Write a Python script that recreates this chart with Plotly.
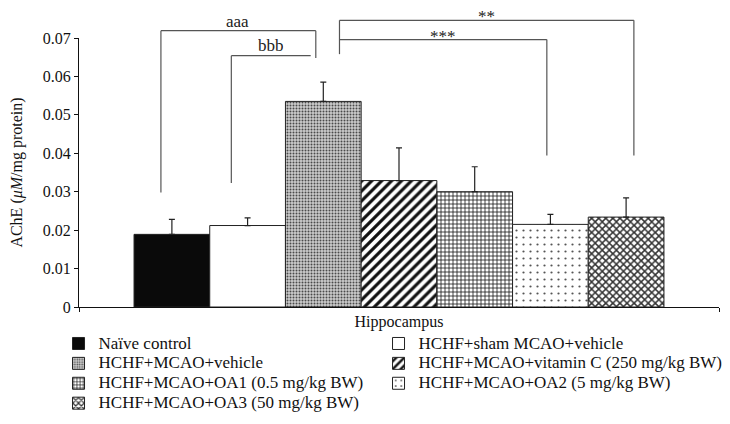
import plotly.graph_objects as go

category = ["Hippocampus"]
groups = [
    "Naïve control",
    "HCHF+sham MCAO+vehicle",
    "HCHF+MCAO+vehicle",
    "HCHF+MCAO+vitamin C (250 mg/kg BW)",
    "HCHF+MCAO+OA1 (0.5 mg/kg BW)",
    "HCHF+MCAO+OA2 (5 mg/kg BW)",
    "HCHF+MCAO+OA3 (50 mg/kg BW)",
]
legend_column = ["legend", "legend2", "legend", "legend2", "legend", "legend2", "legend"]
means = [0.0189, 0.0212, 0.0535, 0.0329, 0.0300, 0.0215, 0.0234]
errors = [0.0039, 0.0020, 0.0050, 0.0085, 0.0065, 0.0026, 0.0050]

y_ticks = [0, 0.01, 0.02, 0.03, 0.04, 0.05, 0.06, 0.07]
y_tick_labels = ["0", "0.01", "0.02", "0.03", "0.04", "0.05", "0.06", "0.07"]
Y_MAX = 0.07

# significance brackets: (x-left, x-right in paper fraction, y top, y left-bottom, y right-bottom, label, label x, label y)
brackets = [
    (0.128, 0.370, 0.0719, 0.0298, 0.0648, "aaa", 0.248, 0.0744),
    (0.238, 0.362, 0.0654, 0.0323, None, "bbb", 0.300, 0.0683),
    (0.407, 0.867, 0.0746, 0.0658, 0.0394, "**", 0.637, 0.0757),
    (0.407, 0.731, 0.0696, None, 0.0394, "***", 0.569, 0.0705),
]

styles = [
    dict(color="#0a0a0a", pattern=dict(shape="")),
    dict(color="#ffffff", pattern=dict(shape="")),
    dict(color="#c0c0c0", pattern=dict(shape=".", fgcolor="#4a4a4a", bgcolor="#cccccc", size=3, solidity=0.35, fillmode="replace")),
    dict(color="#ffffff", pattern=dict(shape="/", fgcolor="#111111", bgcolor="#ffffff", size=7, solidity=0.45, fillmode="replace")),
    dict(color="#ffffff", pattern=dict(shape="+", fgcolor="#111111", bgcolor="#ffffff", size=4, solidity=0.35, fillmode="replace")),
    dict(color="#ffffff", pattern=dict(shape=".", fgcolor="#555555", bgcolor="#ffffff", size=7, solidity=0.08, fillmode="replace")),
    dict(color="#ffffff", pattern=dict(shape="x", fgcolor="#333333", bgcolor="#ffffff", size=5, solidity=0.5, fillmode="replace")),
]

FONT = "Liberation Serif"

fig = go.Figure()
for name, lg, m, e, st in zip(groups, legend_column, means, errors, styles):
    fig.add_trace(go.Bar(
        x=category, y=[m], name='<span style="font-size:17px">' + name + '</span>',
        legend=lg,
        marker=dict(color=st["color"], pattern=st["pattern"],
                    line=dict(color="#222222", width=1)),
        error_y=dict(type="data", array=[e], arrayminus=[0], symmetric=False,
                     color="#222222", thickness=1.2, width=3),
    ))

shapes = []
annotations = []
for xl, xr, yt, ybl, ybr, lab, lx, ly in brackets:
    line = dict(color="#555555", width=1.2)
    shapes.append(dict(type="line", xref="paper", yref="paper", x0=xl, x1=xr,
                       y0=yt / Y_MAX, y1=yt / Y_MAX, line=line))
    if ybl is not None:
        shapes.append(dict(type="line", xref="paper", yref="paper", x0=xl, x1=xl,
                           y0=ybl / Y_MAX, y1=yt / Y_MAX, line=line))
    if ybr is not None:
        shapes.append(dict(type="line", xref="paper", yref="paper", x0=xr, x1=xr,
                           y0=ybr / Y_MAX, y1=yt / Y_MAX, line=line))
    annotations.append(dict(xref="paper", yref="paper", x=lx, y=ly / Y_MAX, text=lab,
                            showarrow=False, font=dict(family=FONT, size=17, color="#222222"),
                            xanchor="center", yanchor="middle", height=14, valign="middle"))

legend_common = dict(orientation="v", y=-0.08, xanchor="left", yanchor="top",
                     font=dict(family=FONT, size=13), traceorder="normal",
                     itemclick=False, bgcolor="rgba(0,0,0,0)")

fig.update_layout(
    width=722, height=416,
    margin=dict(l=71, r=11, t=30, b=117, autoexpand=False),
    paper_bgcolor="white", plot_bgcolor="white",
    font=dict(family=FONT, size=16, color="#111111"),
    barmode="group", bargap=0.172, bargroupgap=0,
    showlegend=True,
    legend=dict(x=-0.032, **legend_common),
    legend2=dict(x=0.468, **legend_common),
    shapes=shapes,
    annotations=annotations,
)
fig.update_xaxes(showline=True, linecolor="#111111", linewidth=1.2, ticks="outside",
                 tickson="boundaries", ticklen=4, tickcolor="#111111",
                 tickfont=dict(family=FONT, size=16), showgrid=False, zeroline=False)
fig.update_yaxes(range=[0, Y_MAX], tickvals=y_ticks, ticktext=y_tick_labels,
                 showline=True, linecolor="#111111", linewidth=1.2, ticks="outside",
                 ticklen=4, tickcolor="#111111", showgrid=False, zeroline=False,
                 tickfont=dict(family=FONT, size=16),
                 title=dict(text="AChE (<i>μM</i>/mg protein)", font=dict(family=FONT, size=16), standoff=16))

fig.write_html("out.html")
